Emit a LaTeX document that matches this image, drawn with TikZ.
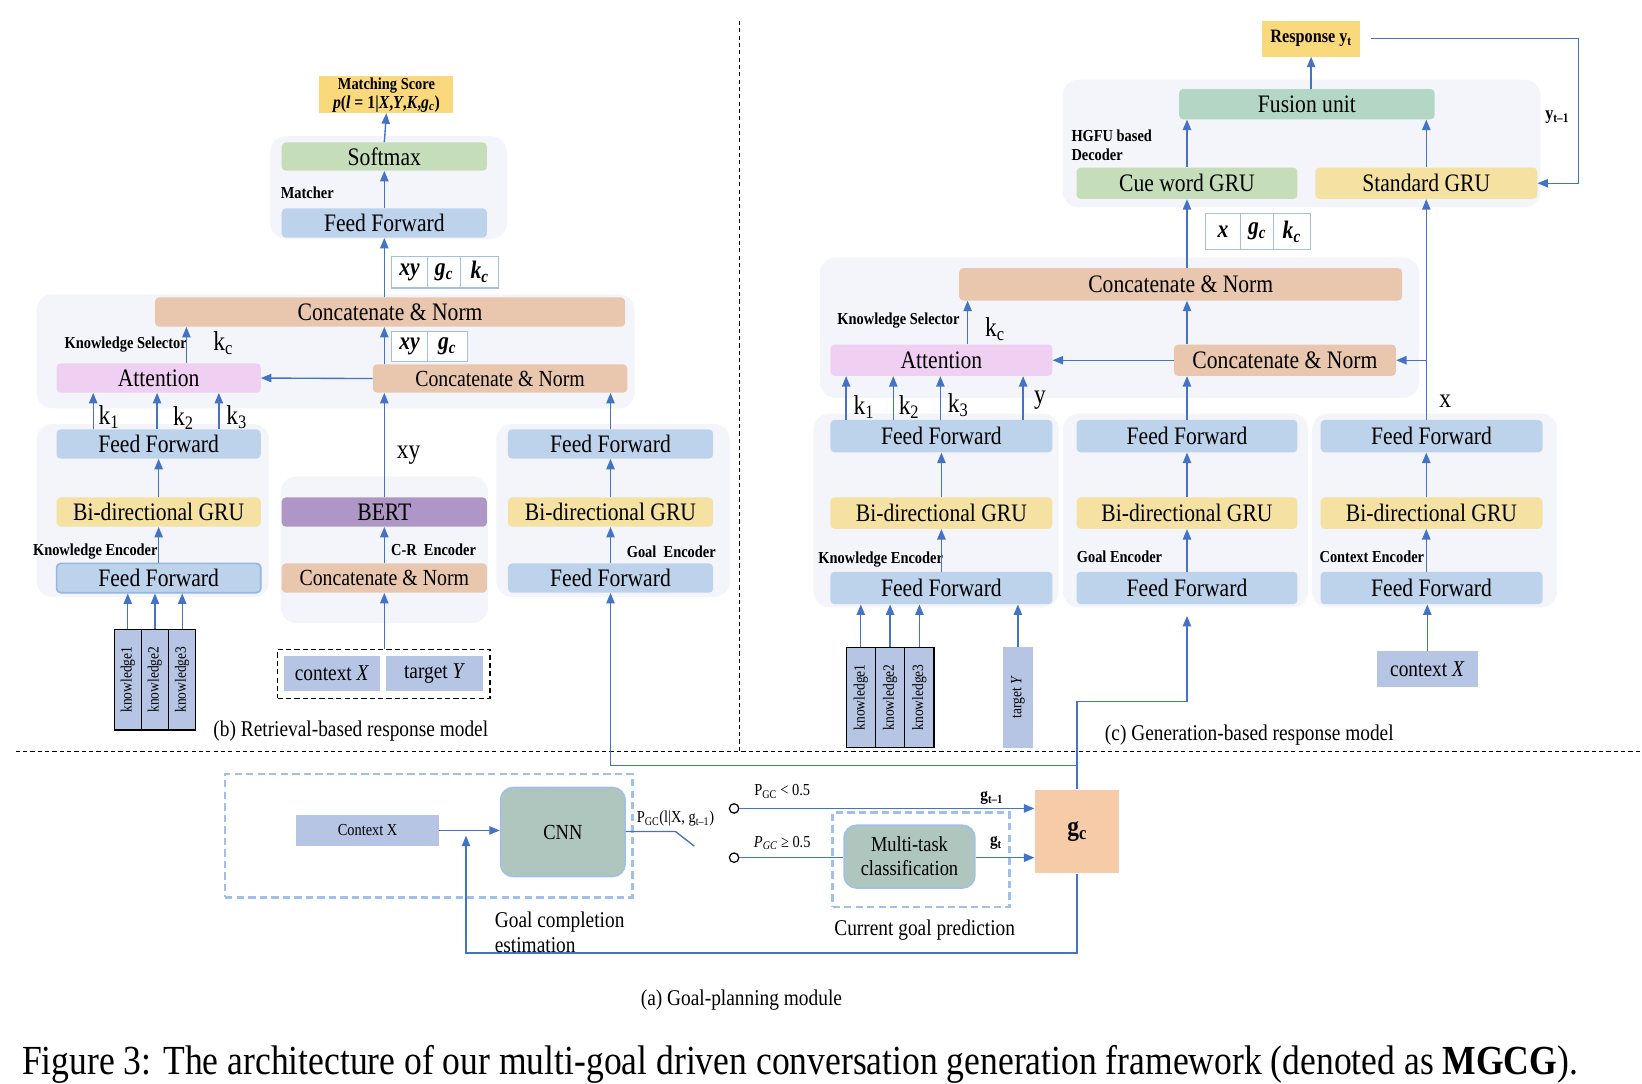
\documentclass[tikz,border=0pt]{standalone}
\usepackage{fontspec}
\usepackage{graphicx}
\setmainfont{Liberation Serif}[FakeStretch=0.86]
\usetikzlibrary{arrows.meta}

\definecolor{ffblue}{RGB}{189,210,235}
\definecolor{ffedge}{RGB}{150,182,226}
\definecolor{gruyellow}{RGB}{245,226,162}
\definecolor{catpeach}{RGB}{233,198,174}
\definecolor{attpink}{RGB}{240,208,242}
\definecolor{softgreen}{RGB}{198,221,185}
\definecolor{fusegreen}{RGB}{180,214,197}
\definecolor{bertpurple}{RGB}{174,150,197}
\definecolor{hiyellow}{RGB}{250,216,124}
\definecolor{panelbg}{RGB}{243,245,250}
\definecolor{inblue}{RGB}{182,197,228}
\definecolor{cnngreen}{RGB}{175,198,190}
\definecolor{gcpeach}{RGB}{245,203,168}
\definecolor{lineblue}{RGB}{68,114,196}
\definecolor{cellblue}{RGB}{160,192,232}

\newcommand{\fntHuge}{\fontsize{26}{28}\selectfont}
\newcommand{\fntBig}{\fontsize{24}{26}\selectfont}
\newcommand{\fntCat}{\fontsize{22}{24}\selectfont}
\newcommand{\fntMid}{\fontsize{21.5}{24}\selectfont}
\newcommand{\fntGb}{\fontsize{20.5}{23}\selectfont}
\newcommand{\fntSmall}{\fontsize{16}{18}\selectfont}
\newcommand{\fntCap}{\fontsize{39.5}{44}\selectfont}

\tikzset{
  blk/.style={rectangle, rounded corners=4pt, inner sep=0pt, minimum width=196pt, minimum height=28pt, font=\fntBig},
  ff/.style={blk, fill=ffblue},
  gru/.style={blk, fill=gruyellow},
  cat/.style={blk, fill=catpeach},
  att/.style={blk, fill=attpink},
  panel/.style={fill=panelbg, rounded corners=15pt},
  arr/.style={draw=lineblue, line width=1.3pt, -{Triangle[length=10pt,width=8pt]}},
  wire/.style={draw=lineblue, line width=1.3pt},
  sep/.style={draw=black, line width=1pt, dash pattern=on 4pt off 3pt},
  lbl/.style={font=\fntSmall\bfseries, inner sep=0pt},
  cell/.style={draw=cellblue, fill=white, line width=1pt, inner sep=0pt, minimum height=30pt, font=\fntBig\bfseries\itshape},
  knbox/.style={draw=black, fill=inblue, line width=1.2pt, minimum width=26pt, minimum height=96pt, inner sep=0pt, font=\fontsize{15}{17}\selectfont},
  inbox/.style={fill=inblue, inner sep=0pt, font=\fntMid},
  dbox/.style={draw=black, line width=1.2pt, dash pattern=on 5pt off 3pt, inner sep=0pt},
  bluedash/.style={draw=cellblue, line width=2.5pt, dash pattern=on 7pt off 4pt, inner sep=0pt},
  gbox/.style={fill=cnngreen, draw=cellblue, line width=1.5pt, rounded corners=12pt, inner sep=0pt, font=\fntGb},
  hibox/.style={fill=hiyellow, inner sep=0pt, align=center, font=\fntSmall\bfseries},
}

\begin{document}
\begin{tikzpicture}[x=1pt,y=-1pt]
    \useasboundingbox (0,0) rectangle (1568,1035);

    % Dividers
    \draw[sep] (706,20) -- (706,718);
    \draw[sep] (15,718) -- (1568,718);

    % Panels of (b)
    \fill[panel] (258,130) rectangle (484,228);
    \fill[panel] (35,281) rectangle (606,390);
    \fill[panel] (35,405) rectangle (257,570);
    \fill[panel] (268,455) rectangle (466,595);
    \fill[panel] (474,405) rectangle (697,570);

    % Matcher
    \node[hibox, minimum width=128pt, minimum height=35pt] (score) at (369,90.5)
        {Matching Score\\{\fontsize{17.5}{18}\selectfont\textit{p}(\textit{l} = 1|\textit{X},\textit{Y},\textit{K},\textit{g}\textsubscript{\textit{c}})}};
    \node[blk, fill=softgreen, minimum height=27pt] (soft) at (367,149.5) {Softmax};
    \node[lbl, anchor=west] (matcher) at (268,184) {Matcher};
    \node[ff] (ffm) at (367,213) {Feed Forward};
    \node[cell, minimum width=34pt] (t1a) at (391,260) {xy};
    \node[cell, minimum width=32pt] (t1b) at (424,260) {g\textsubscript{c}};
    \node[cell, minimum width=36pt] (t1c) at (458,260) {k\textsubscript{c}};

    % Knowledge selector (b)
    \node[cat, minimum width=449pt] (catb) at (372.5,298) {Concatenate \& Norm};
    \node[lbl] (selb) at (120,329) {Knowledge Selector};
    \node[font=\fntHuge] (kcb) at (213,328) {k\textsubscript{c}};
    \node[att, minimum width=195pt] (attb) at (151.5,361) {Attention};
    \node[cat, minimum width=243pt, minimum height=27pt, font=\fntCat] (catlb) at (477.5,361.5) {Concatenate \& Norm};
    \node[cell, minimum width=34pt, minimum height=28pt] (t2a) at (391,331) {xy};
    \node[cell, minimum width=38pt, minimum height=28pt] (t2b) at (427,331) {g\textsubscript{c}};

    % Knowledge encoder (b)
    \node[ff, minimum width=195pt] (ffk1) at (151.5,424) {Feed Forward};
    \node[gru, minimum width=195pt] (gruk) at (151.5,489) {Bi-directional GRU};
    \node[lbl] (kencb) at (91,527) {Knowledge Encoder};
    \node[ff, minimum width=195pt, draw=ffedge, line width=1.5pt] (ffk0) at (151.5,552) {Feed Forward};
    \foreach \i/\x in {1/122,2/148,3/174}
        \node[knbox] (kb\i) at (\x,649) {\rotatebox{90}{knowledge\i}};

    % C-R encoder
    \node[blk, fill=bertpurple] (bert) at (367,489) {BERT};
    \node[lbl] (crenc) at (414,525) {C-R\ \ Encoder};
    \node[cat, font=\fntCat] (catcr) at (367,552) {Concatenate \& Norm};
    \node[dbox, minimum width=203pt, minimum height=47pt] (inb) at (366.5,643.5) {};
    \node[inbox, minimum width=92pt, minimum height=34pt] (ctxb) at (317,643) {context \textit{X}};
    \node[inbox, minimum width=92pt, minimum height=34pt] (tgtb) at (415,643) {target \textit{Y}};

    % Goal encoder (b)
    \node[ff] (ffg1) at (583,424) {Feed Forward};
    \node[gru] (grug) at (583,489) {Bi-directional GRU};
    \node[lbl] (gencb) at (641,527) {Goal\ \ Encoder};
    \node[ff] (ffg0) at (583,552) {Feed Forward};

    % Arrows of (b)
    \draw[arr] (soft.north) -- (score.south);
    \draw[arr] (ffm.north) -- (soft.south);
    \draw[arr] (catb.north -| ffm) -- (ffm.south);
    \draw[arr] (attb.north -| 178,0) -- (catb.south -| 178,0);
    \draw[arr] (catlb.north -| ffm) -- (catb.south -| ffm);
    \draw[arr] (catlb.west) -- (attb.east);
    \draw[arr] (bert.north) -- (catlb.south -| bert) node[pos=0.4, right=8pt, font=\fntHuge] (xyb) {xy};
    \draw[arr] (ffg1.north) -- (catlb.south -| ffg1);
    \foreach \x/\k/\lx/\ly in {89/1/104/398, 150/2/175/399, 209/3/226/398} {
        \draw[arr] (ffk1.north -| \x,0) -- (attb.south -| \x,0);
        \node[font=\fntHuge] (kb\k lab) at (\lx,\ly) {k\textsubscript{\k}};
    }
    \draw[arr] (gruk.north) -- (ffk1.south);
    \draw[arr] (ffk0.north) -- (gruk.south);
    \foreach \i in {1,2,3}
        \draw[arr] (kb\i.north) -- (ffk0.south -| kb\i);
    \draw[arr] (catcr.north) -- (bert.south);
    \draw[arr] (inb.north -| catcr) -- (catcr.south);
    \draw[arr] (grug.north) -- (ffg1.south);
    \draw[arr] (ffg0.north) -- (grug.south);

    \node[font=\fntMid] (capb) at (335,698) {(b) Retrieval-based response model};

    % Panels of (c)
    \fill[panel] (1015,76) rectangle (1471,198);
    \fill[panel] (783,246) rectangle (1355,380);
    \fill[panel] (777,395) rectangle (1011,580);
    \fill[panel] (1015,395) rectangle (1249,580);
    \fill[panel] (1253,395) rectangle (1487,580);

    % Decoder
    \node[hibox, minimum width=94pt, minimum height=34pt, font=\fontsize{18}{20}\selectfont\bfseries] (resp) at (1252,37) {Response y\textsubscript{t}};
    \node[blk, fill=fusegreen, minimum width=244pt, minimum height=29pt] (fuse) at (1248,99.5) {Fusion unit};
    \node[lbl, anchor=north west, align=left] (hgfu) at (1023,124) {HGFU based\\Decoder};
    \node[blk, fill=softgreen, minimum width=211pt, minimum height=30pt] (cue) at (1133.5,175) {Cue word GRU};
    \node[gru, minimum width=212pt, minimum height=30pt] (stdg) at (1362,175) {Standard GRU};
    \node[cell, minimum width=34pt, minimum height=34pt] (t3a) at (1168,221) {x};
    \node[cell, minimum width=31pt, minimum height=34pt] (t3b) at (1200.5,221) {g\textsubscript{c}};
    \node[cell, minimum width=35pt, minimum height=34pt] (t3c) at (1233.5,221) {k\textsubscript{c}};

    % Knowledge selector (c)
    \node[cat, minimum width=423pt, minimum height=31pt] (catc) at (1127.5,271.5) {Concatenate \& Norm};
    \node[lbl] (selc) at (858,306) {Knowledge Selector};
    \node[font=\fntHuge] (kcc) at (950,314) {k\textsubscript{c}};
    \node[att, minimum width=212pt, minimum height=30pt] (attc) at (899,344) {Attention};
    \node[cat, minimum width=212pt, minimum height=30pt] (catlc) at (1227,344) {Concatenate \& Norm};

    % Encoders (c)
    \node[ff, minimum width=212pt, minimum height=31pt] (ffkc1) at (899,416.5) {Feed Forward};
    \node[gru, minimum width=212pt, minimum height=30pt] (grukc) at (899,490) {Bi-directional GRU};
    \node[lbl] (kencc) at (841,534) {Knowledge Encoder};
    \node[ff, minimum width=212pt, minimum height=31pt] (ffkc0) at (899,561.5) {Feed Forward};
    \node[ff, minimum width=211pt, minimum height=31pt] (ffgc1) at (1133.5,416.5) {Feed Forward};
    \node[gru, minimum width=211pt, minimum height=30pt] (grugc) at (1133.5,490) {Bi-directional GRU};
    \node[lbl] (gencc) at (1069,532) {Goal Encoder};
    \node[ff, minimum width=211pt, minimum height=31pt] (ffgc0) at (1133.5,561.5) {Feed Forward};
    \node[ff, minimum width=212pt, minimum height=31pt] (ffcc1) at (1367,416.5) {Feed Forward};
    \node[gru, minimum width=212pt, minimum height=30pt] (grucc) at (1367,490) {Bi-directional GRU};
    \node[lbl] (cencc) at (1310,532) {Context Encoder};
    \node[ff, minimum width=212pt, minimum height=31pt] (ffcc0) at (1367,561.5) {Feed Forward};
    \foreach \i/\x in {1/822,2/850,3/878}
        \node[knbox, minimum width=28pt] (kc\i) at (\x,666) {\rotatebox{90}{knowledge\i}};
    \node[inbox, minimum width=28pt, minimum height=96pt, font=\fontsize{15}{17}\selectfont] (tgtc) at (972,666) {\rotatebox{90}{target \textit{Y}}};
    \node[inbox, minimum width=96pt, minimum height=34pt] (ctxc) at (1363,639) {context \textit{X}};

    % Arrows of (c)
    \draw[arr] (resp.south |- fuse.north) -- (resp.south);
    \draw[arr] (cue.north) -- (fuse.south -| cue);
    \draw[arr] (stdg.north) -- (fuse.south -| stdg);
    \draw[arr] ([xshift=10pt]resp.east) -| ([xshift=39pt]stdg.east) -- (stdg.east);
    \node[font=\fontsize{18}{20}\selectfont\bfseries] (ytm) at (1487,112) {y\textsubscript{t--1}};
    \draw[arr] (catc.north -| cue) -- (cue.south);
    \draw[arr] (attc.north -| 924,0) -- (catc.south -| 924,0);
    \draw[arr] (catlc.north -| cue) -- (catc.south -| cue);
    \draw[arr] (catlc.west) -- (attc.east);
    \draw[arr] (ffgc1.north -| cue) -- (catlc.south -| cue);
    \draw[arr] (ffcc1.north -| stdg) -- (stdg.south);
    \draw[arr] (catlc.east -| stdg) -- (catlc.east);
    \node[font=\fntHuge] (xlab) at (1380,383) {x};
    \foreach \x in {808,853,898,977}
        \draw[arr] (ffkc1.north -| \x,0) -- (attc.south -| \x,0);
    \node[font=\fntHuge] (k1c) at (825,389) {k\textsubscript{1}};
    \node[font=\fntHuge] (k2c) at (868,389) {k\textsubscript{2}};
    \node[font=\fntHuge] (k3c) at (915,387) {k\textsubscript{3}};
    \node[font=\fntHuge] (yc) at (993,382) {y};
    \draw[arr] (grukc.north) -- (ffkc1.south);
    \draw[arr] (ffkc0.north) -- (grukc.south);
    \draw[arr] (grugc.north -| cue) -- (ffgc1.south -| cue);
    \draw[arr] (ffgc0.north -| cue) -- (grugc.south -| cue);
    \draw[arr] (grucc.north -| stdg) -- (ffcc1.south -| stdg);
    \draw[arr] (ffcc0.north -| stdg) -- (grucc.south -| stdg);
    \foreach \i in {1,2,3}
        \draw[arr] (kc\i.north) -- (ffkc0.south -| kc\i);
    \draw[arr] (tgtc.north) -- (ffkc0.south -| tgtc);
    \draw[arr] (ctxc.north) -- (ffcc0.south -| ctxc);

    \node[font=\fntMid] (capc) at (1193,702) {(c) Generation-based response model};

    % Goal-planning module (a)
    \node[bluedash, minimum width=389pt, minimum height=118pt] (gce) at (409.5,798) {};
    \node[inbox, minimum width=136pt, minimum height=30pt, font=\fntSmall] (ctxa) at (351,793) {Context X};
    \node[gbox, minimum width=119pt, minimum height=85pt] (cnn) at (537.5,794.5) {CNN};
    \coordinate (sw) at (645,794);
    \coordinate (swend) at (663,808);
    \coordinate (fb) at (445,798);
    \node[font=\fntSmall] (pgc) at (645,782) {P\textsubscript{GC}(l|X, g\textsubscript{t--1})};
    \node[circle, draw=black, line width=1.2pt, inner sep=0pt, minimum size=9pt] (o1) at (701,772) {};
    \node[circle, draw=black, line width=1.2pt, inner sep=0pt, minimum size=9pt] (o2) at (701,819) {};
    \node[bluedash, minimum width=169pt, minimum height=90pt] (cgp) at (879.5,821) {};
    \node[gbox, minimum width=125pt, minimum height=60pt, align=center] (mt) at (868.5,818) {Multi-task\\classification};
    \node[fill=gcpeach, minimum width=81pt, minimum height=80pt, inner sep=0pt, font=\fntHuge\bfseries] (gc) at (1028.5,794) {g\textsubscript{c}};
    \node[font=\fntSmall] (plt) at (747,756) {P\textsubscript{GC} < 0.5};
    \node[font=\fntSmall] (pge) at (747,805) {\textit{P}\textsubscript{\textit{GC}} ≥ 0.5};
    \node[font=\fontsize{17}{19}\selectfont\bfseries] (gtm) at (947,762) {g\textsubscript{t--1}};
    \node[font=\fontsize{17}{19}\selectfont\bfseries] (gt) at (951,805) {g\textsubscript{t}};

    \draw[arr] (ctxa.east) -- (cnn.west |- ctxa.east);
    \draw[wire] (cnn.east |- sw) -- (sw) -- (swend);
    \draw[arr] (o1.east) -- (gc.west |- o1);
    \draw[wire] (o2.east) -- (mt.west |- o2);
    \draw[arr] (mt.east |- o2) -- (gc.west |- o2);
    \draw[arr] (gc.north) -- (gc.north |- 0,731) -| (ffg0.south);
    \draw[arr] (gc.north |- 0,731) -- (gc.north |- 0,670) -| ([yshift=-11pt]ffgc0.south -| cue);
    \draw[arr] (gc.south) |- (fb |- 0,910) -- (fb);

    \node[font=\fntMid, align=left, anchor=north west] (gcelab) at (469,867) {Goal completion\\estimation};
    \node[font=\fntMid] (cgplab) at (883,888) {Current goal prediction};
    \node[font=\fntMid] (capa) at (708,955) {(a) Goal-planning module};

    % Figure caption
    \node[font=\fntCap, anchor=base] (figcap) at (764,1026) {Figure 3: The architecture of our multi-goal driven conversation generation framework (denoted as \textbf{MGCG}).};
\end{tikzpicture}
\end{document}
